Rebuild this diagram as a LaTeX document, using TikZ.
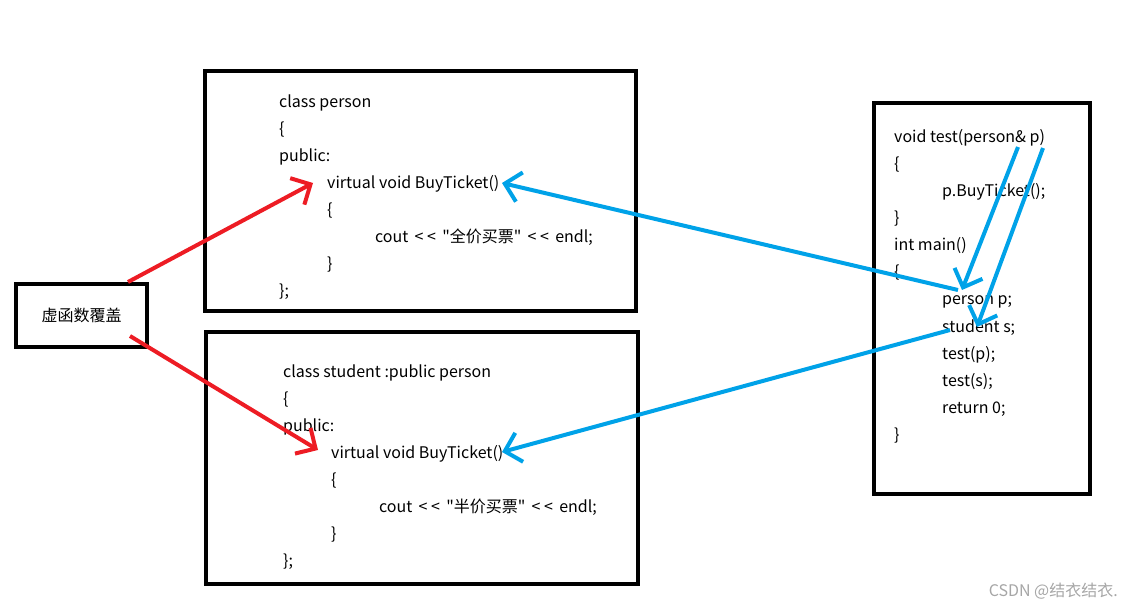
\documentclass[tikz,border=0pt]{standalone}
\usepackage{fontspec}
\setmainfont{Noto Sans CJK SC}[Ligatures=TeXOff]
\usepackage{xcolor}
\usetikzlibrary{arrows.meta}
\definecolor{pred}{HTML}{ED1C24}
\definecolor{pblue}{HTML}{00A2E8}
\definecolor{pmark}{HTML}{A6A6A6}

\begin{document}
\begin{tikzpicture}[x=1pt, y=-1pt, font=\fontsize{16}{19}\selectfont,
  frame/.style={draw=black, line width=4pt, inner sep=0pt},
  code/.style={anchor=base west, inner sep=0pt, text=black},
  redarr/.style={draw=pred, line width=4pt, -{Straight Barb[length=15pt, width=30pt]}},
  bluearr/.style={draw=pblue, line width=4pt, -{Straight Barb[length=15pt, width=30pt]}}]
  \useasboundingbox (0,0) rectangle (1131,609);
  % --- frames
  \node[frame, minimum width=131pt, minimum height=63pt] (cover) at (81.5,315.5) {虚函数覆盖};
  \node[frame, minimum width=431pt, minimum height=240pt] (pbox) at (420.5,191) {};
  \node[frame, minimum width=432pt, minimum height=252pt] (sbox) at (422,458) {};
  \node[frame, minimum width=216pt, minimum height=391pt] (mbox) at (982,298.5) {};
  % --- class person
  \node[code] (p1) at (279,108) {class person};
  \node[code] (p2) at (279,135) {\{};
  \node[code] (p3) at (279,162) {public:};
  \node[code] (p4) at (327,189) {virtual void BuyTicket()};
  \node[code] (p5) at (327,216) {\{};
  \node[code] (p6) at (375,243) {cout\ \,< <\ \,"全价买票"\ \,< <\ \,endl;};
  \node[code] (p7) at (327,270) {\}};
  \node[code] (p8) at (279,297) {\};};
  % --- class student
  \node[code] (s1) at (283,377) {class student :public person};
  \node[code] (s2) at (283,404) {\{};
  \node[code] (s3) at (283,431) {public:};
  \node[code] (s4) at (331,458) {virtual void BuyTicket()};
  \node[code] (s5) at (331,485) {\{};
  \node[code] (s6) at (379,512) {cout\ \,< <\ \,"半价买票"\ \,< <\ \,endl;};
  \node[code] (s7) at (331,539) {\}};
  \node[code] (s8) at (283,566) {\};};
  % --- test + main
  \node[code] (m1)  at (894,143) {void test(person\& p)};
  \node[code] (m2)  at (894,170) {\{};
  \node[code] (m3)  at (942,197) {p.BuyTicket();};
  \node[code] (m4)  at (894,224) {\}};
  \node[code] (m5)  at (894,251) {int main()};
  \node[code] (m6)  at (894,278) {\{};
  \node[code] (m7)  at (942,305) {person p;};
  \node[code] (m8)  at (942,332) {student s;};
  \node[code] (m9)  at (942,359) {test(p);};
  \node[code] (m10) at (942,386) {test(s);};
  \node[code] (m11) at (942,413) {return 0;};
  \node[code] (m12) at (894,440) {\}};
  \node[anchor=base east, inner sep=0pt, text=pmark] (mark) at (1118,596) {CSDN @结衣结衣.};
  % --- arrow ends
  \coordinate (rup)   at (128,282);
  \coordinate (rdown) at (130,336);
  \coordinate (pvin)  at (313,183);
  \coordinate (svin)  at (318,450);
  \coordinate (pvout) at (502,183);
  \coordinate (svout) at (502,452);
  \coordinate (pobj)  at (958,290);
  \coordinate (sobj)  at (950,330);
  \coordinate (refp)  at (1018,147);
  \coordinate (refq)  at (1043,148);
  \coordinate (pin)   at (962,290);
  \coordinate (sin)   at (977,327);
  \draw[redarr]  (rup)   -- (pvin);
  \draw[redarr]  (rdown) -- (svin);
  \draw[bluearr] (pobj)  -- (pvout);
  \draw[bluearr] (sobj)  -- (svout);
  \draw[bluearr] (refp)  -- (pin);
  \draw[bluearr] (refq)  -- (sin);
\end{tikzpicture}
\end{document}
